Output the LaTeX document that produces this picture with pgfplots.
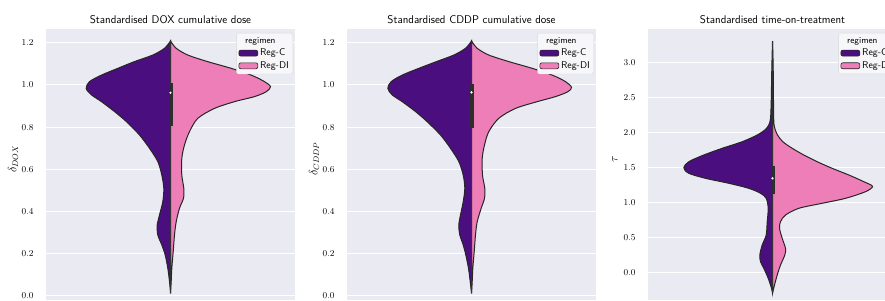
\documentclass[border=0pt]{standalone}
\usepackage{pgfplots}
\pgfplotsset{compat=1.18}
\usepackage{pgfplotstable}
\definecolor{bg}{HTML}{EAEAF2}
\definecolor{regc}{HTML}{4A0E7E}
\definecolor{regdi}{HTML}{EE7EB7}
\definecolor{edge}{HTML}{262626}

% half-widths (w) in pixel units, y in data units
\pgfplotstableread{
y w
1.2085 0
1.174 6
1.142 17.7
1.111 36
1.079 52.7
1.047 69
1.016 81
0.984 84.3
0.953 79
0.921 69
0.874 56
0.826 44
0.763 31
0.700 21
0.637 12.7
0.573 8.7
0.510 6.7
0.447 7.7
0.384 11
0.336 13.3
0.289 12.7
0.242 8.7
0.194 5.3
0.131 2.7
0.068 1
0.013 0
}\doxL
\pgfplotstableread{
y w
1.2085 0
1.174 5.7
1.142 17.3
1.111 37
1.079 60.7
1.047 80.7
1.016 94
0.992 100
0.968 95.7
0.945 84
0.921 64
0.889 44
0.842 27.3
0.779 19
0.716 14
0.652 11.3
0.573 11.3
0.510 13.3
0.463 13
0.416 9
0.352 5.7
0.289 4
0.210 2.7
0.131 1.3
0.068 0.7
0.013 0
}\doxR
\pgfplotstableread{
y w
1.2085 0
1.174 6
1.142 17.7
1.111 35
1.079 52.7
1.047 69.3
1.016 80.3
0.984 83.7
0.953 79.3
0.921 69.3
0.874 56
0.826 44.3
0.763 31
0.700 21
0.637 12.7
0.573 8.3
0.510 6.7
0.447 8.3
0.384 11
0.336 12.7
0.289 11.7
0.242 8.3
0.194 5.7
0.131 3
0.068 1.3
0.013 0
}\cddpL
\pgfplotstableread{
y w
1.2085 0
1.174 5.7
1.142 17.3
1.111 37.3
1.079 60.7
1.047 80.7
1.016 94
0.989 100
0.968 96.3
0.945 84
0.921 65.7
0.889 44
0.842 27.3
0.779 17.3
0.716 13
0.652 10.7
0.573 11
0.510 13.3
0.463 13
0.416 9.7
0.352 5.7
0.289 4
0.210 2.7
0.131 1.3
0.068 0.7
0.013 0
}\cddpR
\pgfplotstableread{
y w
3.310 0
2.920 0.7
2.442 1.3
2.204 2
2.108 3.7
2.037 7.7
1.965 15.3
1.869 30.3
1.775 50.3
1.679 68.7
1.583 83.7
1.497 88.7
1.417 83.7
1.345 67
1.274 43.7
1.202 23.7
1.131 12
1.059 6.3
0.916 4.3
0.724 5.3
0.534 6.3
0.391 10.3
0.248 12.7
0.152 12
0.057 8.7
-0.086 4.3
-0.229 1
-0.301 0
}\totL
\pgfplotstableread{
y w
3.310 0
2.920 0.7
2.442 1
2.156 1.3
2.061 2.3
1.965 5
1.869 10.3
1.775 19.7
1.679 31.3
1.583 44.7
1.488 59.7
1.393 76.3
1.297 91.3
1.230 100
1.154 93
1.059 73
0.988 49.7
0.916 26.3
0.820 13
0.724 8
0.630 7
0.487 9.7
0.343 13
0.248 12.3
0.104 8
-0.039 4.7
-0.182 2
-0.301 0
}\totR

\pgfplotsset{
 vio/.style={
  scale only axis, width=249pt, height=271pt,
  xmin=-124.5, xmax=124.5,
  axis background/.style={fill=bg},
  axis line style={draw=none},
  xtick=\empty,
  ymajorgrids, grid style={white, line width=1pt},
  major tick length=0pt,
  tick style={draw=none},
  yticklabel style={font=\fontsize{8.6}{10}\selectfont, anchor=east, xshift=-9pt},
  /pgf/number format/fixed, /pgf/number format/fixed zerofill, /pgf/number format/precision=1,
  title style={font=\sffamily\fontsize{11.2}{13}\selectfont, at={(0.5,1)}, anchor=base, yshift=-1pt},
  ylabel style={font=\fontsize{12}{14}\selectfont, at={(axis description cs:-0.132,0.52)}, anchor=center},
  legend style={at={(1,1)}, anchor=north east, xshift=-2pt, yshift=-4pt,
     fill=bg!40!white, draw=black!15, rounded corners=2pt,
     font=\sffamily\fontsize{9.8}{11}\selectfont, inner sep=2pt, row sep=0.3pt},
  legend cell align=left,
  legend image code/.code={\draw[##1] (0pt,-3pt) rectangle (19pt,3pt);},
 },
 vl/.style={fill=regc, draw=edge, line width=1pt, smooth, tension=0.5, forget plot},
 vr/.style={fill=regdi, draw=edge, line width=1pt, smooth, tension=0.5, forget plot},
 whisk/.style={forget plot, line width=0.9pt, black!80},
 boxl/.style={forget plot, line width=4pt, black!82},
 medd/.style={forget plot, only marks, mark=*, mark size=0.9pt, white},
}

\begin{document}
\begin{tikzpicture}
% Panel 1
\begin{axis}[vio, at={(46pt,0pt)}, anchor=south west,
  ymin=-0.019, ymax=1.2654, ytick={0,0.2,0.4,0.6,0.8,1.0,1.2},
  title={Standardised DOX cumulative dose}, ylabel={$\delta_{DOX}$}]
\addplot[vl] table[x expr=-\thisrow{w}, y=y] {\doxL} -- cycle;
\addplot[vr] table[x=w, y=y] {\doxR} -- cycle;
\addplot[whisk] coordinates {(0,0.013) (0,1.2085)};
\addplot[boxl] coordinates {(0,0.805) (0,1.008)};
\addplot[medd] coordinates {(0,0.963)};
\addlegendimage{empty legend}\addlegendentry{\hspace*{-15pt}\fontsize{9}{10}\selectfont regimen}
\addlegendimage{fill=regc, draw=edge, line width=0.6pt}\addlegendentry{Reg-C}
\addlegendimage{fill=regdi, draw=edge, line width=0.6pt}\addlegendentry{Reg-DI}
\end{axis}
% Panel 2
\begin{axis}[vio, at={(347pt,0pt)}, anchor=south west,
  ymin=-0.019, ymax=1.2654, ytick={0,0.2,0.4,0.6,0.8,1.0,1.2},
  title={Standardised CDDP cumulative dose}, ylabel={$\delta_{CDDP}$}]
\addplot[vl] table[x expr=-\thisrow{w}, y=y] {\cddpL} -- cycle;
\addplot[vr] table[x=w, y=y] {\cddpR} -- cycle;
\addplot[whisk] coordinates {(0,0.013) (0,1.2085)};
\addplot[boxl] coordinates {(0,0.798) (0,1.003)};
\addplot[medd] coordinates {(0,0.965)};
\addlegendimage{empty legend}\addlegendentry{\hspace*{-15pt}\fontsize{9}{10}\selectfont regimen}
\addlegendimage{fill=regc, draw=edge, line width=0.6pt}\addlegendentry{Reg-C}
\addlegendimage{fill=regdi, draw=edge, line width=0.6pt}\addlegendentry{Reg-DI}
\end{axis}
% Panel 3
\begin{axis}[vio, at={(648pt,0pt)}, anchor=south west,
  ymin=-0.396, ymax=3.482, ytick={0,0.5,1.0,1.5,2.0,2.5,3.0},
  title={Standardised time-on-treatment}, ylabel={$\tau$}]
\addplot[vl] table[x expr=-\thisrow{w}, y=y] {\totL} -- cycle;
\addplot[vr] table[x=w, y=y] {\totR} -- cycle;
\addplot[whisk] coordinates {(0,-0.301) (0,3.310)};
\addplot[boxl] coordinates {(0,1.116) (0,1.526)};
\addplot[medd] coordinates {(0,1.345)};
\addlegendimage{empty legend}\addlegendentry{\hspace*{-15pt}\fontsize{9}{10}\selectfont regimen}
\addlegendimage{fill=regc, draw=edge, line width=0.6pt}\addlegendentry{Reg-C}
\addlegendimage{fill=regdi, draw=edge, line width=0.6pt}\addlegendentry{Reg-DI}
\end{axis}
\pgfresetboundingbox
\useasboundingbox (0,0) rectangle (885pt,300pt);
\end{tikzpicture}
\end{document}
